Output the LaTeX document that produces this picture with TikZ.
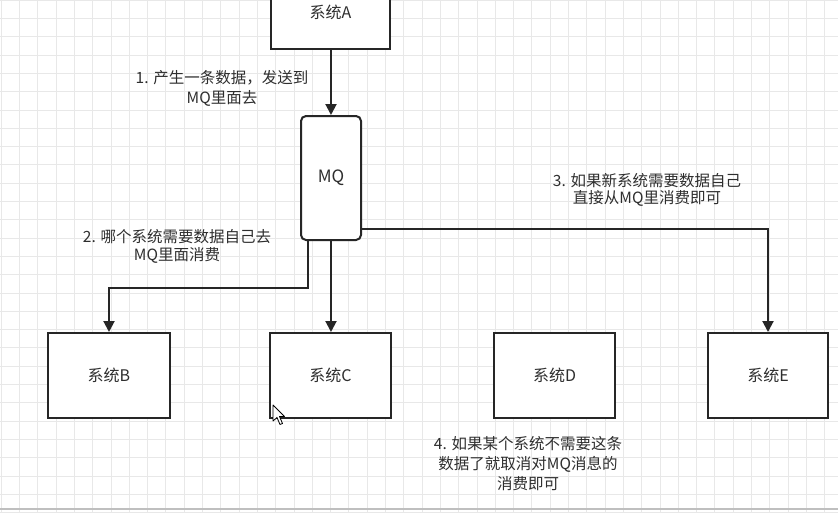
\documentclass[tikz,border=0pt]{standalone}
\usepackage{fontspec}
\setmainfont{Noto Sans CJK SC}
\usetikzlibrary{arrows.meta}
\definecolor{txt}{HTML}{2E2E2E}
\definecolor{ln}{HTML}{262626}
\definecolor{gridc}{HTML}{E8E8E8}
\tikzset{
  sysbox/.style={draw=ln, line width=2pt, fill=white, minimum width=121pt, minimum height=85pt, inner sep=0pt, text=txt, font=\fontsize{16}{19}\selectfont},
  mqbox/.style={draw=ln, line width=2pt, fill=white, rounded corners=5pt, minimum width=60pt, minimum height=124pt, inner sep=0pt, text=txt, font=\fontsize{17}{19}\selectfont},
  arr/.style={draw=ln, line width=2pt, -{Triangle[length=11pt,width=11pt]}},
  lbl/.style={text=txt, align=center, inner sep=0pt, font=\fontsize{15.5}{#1}\selectfont},
  lbl/.default=18,
}
\begin{document}
\begin{tikzpicture}[x=1pt,y=-1pt]
\useasboundingbox (0,0) rectangle (838,512);
\clip (0,0) rectangle (838,512);
\fill[white] (0,0) rectangle (838,512);
% grid
\foreach \i in {0,...,46} {
  \draw[gridc, line width=0.8pt] (1.1+\i*18.3,0) -- (1.1+\i*18.3,512);
}
\foreach \j in {0,...,28} {
  \draw[gridc, line width=0.8pt] (0,0.1+\j*18.3) -- (838,0.1+\j*18.3);
}
\draw[black!25, line width=1.2pt] (0,509) -- (838,509);
% nodes
\node[sysbox, minimum width=119pt, minimum height=74pt] (A) at (330.5,12) {系统A};
\node[mqbox] (MQ) at (331,178) {MQ};
\node[sysbox, minimum width=122pt] (B) at (109,375.5) {系统B};
\node[sysbox] (C) at (330.5,375.5) {系统C};
\node[sysbox] (D) at (554.5,375.5) {系统D};
\node[sysbox, minimum width=120pt] (E) at (768,375.5) {系统E};
% connectors
\draw[arr] (A.south -| MQ.north) -- (MQ.north);
\coordinate (b1) at (308,288);
\draw[arr] (MQ.south -| b1) -- (b1) -| (B.north);
\draw[arr] (MQ.south) -- (MQ.south |- C.north);
\coordinate (e1) at (768,229);
\draw[arr] (MQ.east |- e1) -| (E.north);
% labels
\node[lbl=20] (l1) at (222,88) {1. 产生一条数据，发送到\\MQ里面去};
\node[lbl=18] (l2) at (177,246) {2. 哪个系统需要数据自己去\\MQ里面消费};
\node[lbl=17.5] (l3) at (647,190) {3. 如果新系统需要数据自己\\直接从MQ里消费即可};
\node[lbl=20] (l4) at (528,463.5) {4. 如果某个系统不需要这条\\数据了就取消对MQ消息的\\消费即可};
% mouse cursor
\draw[black, fill=white, line width=0.8pt, line join=round]
  (273,405) -- (273,421) -- (277,417.5) -- (280,424.5) -- (282.5,423.5) -- (279.5,416.5) -- (284.5,416.5) -- cycle;
\end{tikzpicture}
\end{document}
